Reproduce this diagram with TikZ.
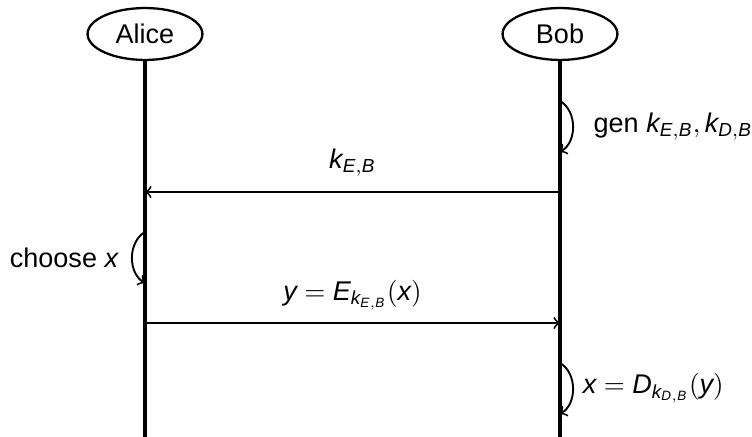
\documentclass[tikz,border=0pt]{standalone}
\usepackage{fontspec}
\setmainfont{Liberation Sans}
\usetikzlibrary{positioning,shapes.geometric}

\begin{document}
\begin{tikzpicture}[
  x=0.37pt, y=-0.37pt,
  party/.style={ellipse, draw, line width=0.85pt, minimum width=42.5pt, minimum height=19.2pt, inner sep=0pt},
  life/.style={line width=1.3pt},
  msg/.style={->, line width=0.7pt},
  selfarc/.style={->, line width=0.7pt}
]
\useasboundingbox (0,0) rectangle (752,437);
\node[party] (alice) at (145,34) {Alice};
\node[party] (bob) at (560,34) {Bob};
\coordinate (aliceend) at (145,437);
\coordinate (bobend) at (560,437);
\draw[life] (alice) -- (aliceend);
\draw[life] (bob) -- (bobend);
% key generation
\coordinate (g0) at (560,101);
\coordinate (g1) at (560,152);
\draw[selfarc] (g0) to[bend left=60] node[right=4pt] {gen $\mathit{k}_{\mathit{E,B}}, \mathit{k}_{\mathit{D,B}}$} (g1);
% public key to Alice
\coordinate (m1b) at (560,192);
\coordinate (m1a) at (145,192);
\draw[msg] (m1b) -- node[above=2pt] {$\mathit{k}_{\mathit{E,B}}$} (m1a);
% choose x
\coordinate (c0) at (145,232);
\coordinate (c1) at (145,283);
\draw[selfarc] (c0) to[bend right=60] node[left=1.5pt] {choose $\mathit{x}$} (c1);
% ciphertext to Bob
\coordinate (m2a) at (145,323);
\coordinate (m2b) at (560,323);
\draw[msg] (m2a) -- node[above=1pt] {$\mathit{y} = \mathit{E}_{\mathit{k}_{\mathit{E,B}}}(\mathit{x})$} (m2b);
% decrypt
\coordinate (d0) at (560,363);
\coordinate (d1) at (560,414);
\draw[selfarc] (d0) to[bend left=60] node[right=0pt] {$\mathit{x} = \mathit{D}_{\mathit{k}_{\mathit{D,B}}}(\mathit{y})$} (d1);
\end{tikzpicture}
\end{document}
